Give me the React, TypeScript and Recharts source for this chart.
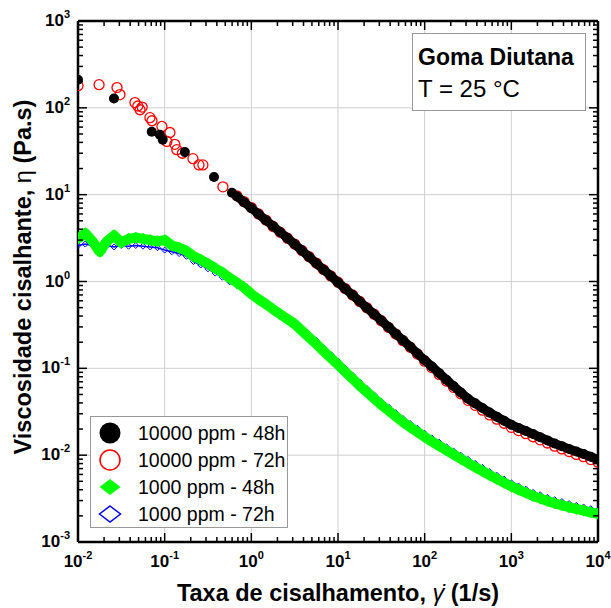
import React from 'react';
import { ScatterChart, Scatter, XAxis, YAxis, ReferenceLine, Legend, Label } from 'recharts';

// ---------- data ----------
// shared shear-rate grid (1/s), 12 points per decade
const rateGrid = [
  0.01, 0.0121, 0.0147, 0.0178, 0.0215, 0.0261, 0.0316, 0.0383, 0.0464, 0.0562, 0.0681, 0.0825,
  0.1, 0.121, 0.147, 0.178, 0.215, 0.261, 0.316, 0.383, 0.464, 0.562, 0.681, 0.825,
  1, 1.21, 1.47, 1.78, 2.15, 2.61, 3.16, 3.83, 4.64, 5.62, 6.81, 8.25,
  10, 12.1, 14.7, 17.8, 21.5, 26.1, 31.6, 38.3, 46.4, 56.2, 68.1, 82.5,
  100, 121, 147, 178, 215, 261, 316, 383, 464, 562, 681, 825,
  1000, 1210, 1470, 1780, 2150, 2610, 3160, 3830, 4640, 5620, 6810, 8250,
  10000,
];

// 10000 ppm - 48h : sparse low-rate points
const rate10000_48hLow = [0.01, 0.026, 0.071, 0.088, 0.095, 0.171, 0.371, 0.597];
const visc10000_48hLow = [211, 128, 53, 49, 43, 30.9, 16, 10.5];
// 10000 ppm - 48h : dense part (rateGrid from 0.681)
const visc10000_48hHigh = [
  9.6, 8.2,
  7.0, 5.97, 5.09, 4.34, 3.7, 3.16, 2.69, 2.27, 1.92, 1.62, 1.37, 1.16,
  0.977, 0.826, 0.697, 0.589, 0.498, 0.42, 0.355, 0.298, 0.25, 0.21, 0.177, 0.148,
  0.124, 0.105, 0.088, 0.074, 0.0626, 0.0528, 0.0447, 0.0395, 0.0349, 0.0309, 0.0277, 0.0249,
  0.0224, 0.0206, 0.019, 0.0175, 0.0161, 0.0148, 0.0136, 0.0127, 0.0118, 0.011, 0.0103, 0.00957,
  0.0089,
];

// 10000 ppm - 72h : sparse low-rate points
const rate10000_72hLow = [0.01, 0.0175, 0.0282, 0.0305, 0.0454, 0.049, 0.052, 0.055, 0.0676, 0.0714, 0.093, 0.106, 0.115, 0.131, 0.138, 0.16, 0.212, 0.249, 0.276, 0.47];
const visc10000_72hLow = [180, 185, 171, 142, 115, 105, 95, 102, 77, 71, 61, 41, 52, 38, 33, 30, 26, 22, 22, 12.3];
// 10000 ppm - 72h : dense part (rateGrid from 0.681)
const visc10000_72hHigh = [
  9.7, 8.3,
  7.1, 6.0, 5.1, 4.3, 3.7, 3.15, 2.7, 2.28, 1.93, 1.63, 1.37, 1.16,
  0.98, 0.83, 0.7, 0.59, 0.5, 0.42, 0.353, 0.296, 0.248, 0.208, 0.175, 0.146,
  0.121, 0.102, 0.085, 0.0715, 0.0604, 0.051, 0.0428, 0.0375, 0.033, 0.0291, 0.026, 0.0233,
  0.0209, 0.0192, 0.0177, 0.0163, 0.015, 0.0138, 0.0127, 0.0118, 0.011, 0.0102, 0.0096, 0.0089,
  0.0083,
];

// 1000 ppm - 48h (full rateGrid)
const visc1000_48h = [
  3.1, 3.6, 2.9, 2.2, 2.9, 3.4, 2.8, 3.1, 3.2, 3.1, 3.0, 2.9,
  3.0, 2.6, 2.45, 2.25, 1.95, 1.78, 1.6, 1.42, 1.27, 1.1, 0.97, 0.85,
  0.72, 0.625, 0.55, 0.479, 0.42, 0.369, 0.324, 0.271, 0.227, 0.191, 0.158, 0.132,
  0.11, 0.0912, 0.0759, 0.0631, 0.0533, 0.045, 0.038, 0.0326, 0.028, 0.024, 0.021, 0.0185,
  0.0162, 0.0144, 0.0128, 0.0114, 0.0102, 0.00908, 0.00813, 0.0073, 0.00656, 0.00589, 0.00533, 0.00482,
  0.00437, 0.00401, 0.00369, 0.00339, 0.00318, 0.00297, 0.00279, 0.00265, 0.00252, 0.0024, 0.0023, 0.0022,
  0.00211,
];

// 1000 ppm - 72h (full rateGrid)
const visc1000_72h = [
  2.6, 2.7, 2.6, 2.5, 2.6, 2.5, 2.6, 2.55, 2.6, 2.55, 2.5, 2.45,
  2.3, 2.2, 2.1, 1.95, 1.7, 1.55, 1.4, 1.25, 1.12, 0.99, 0.9, 0.81,
  0.71, 0.625, 0.55, 0.48, 0.42, 0.37, 0.34, 0.285, 0.24, 0.21, 0.174, 0.145,
  0.121, 0.1, 0.0835, 0.0694, 0.0586, 0.0495, 0.0418, 0.0359, 0.0308, 0.0264, 0.0231, 0.0204,
  0.0178, 0.0158, 0.0141, 0.0125, 0.0112, 0.00999, 0.00894, 0.00803, 0.00722, 0.00648, 0.00586, 0.0053,
  0.00481, 0.00441, 0.00406, 0.00373, 0.0035, 0.00327, 0.00307, 0.00292, 0.00277, 0.00264, 0.00253, 0.00242,
  0.00232,
];

const seriesNames = ['10000 ppm - 48h', '10000 ppm - 72h', '1000 ppm - 48h', '1000 ppm - 72h'];
const xMajorTicks = [0.01, 0.1, 1, 10, 100, 1000, 10000];
const yMajorTicks = [0.001, 0.01, 0.1, 1, 10, 100, 1000];
const xTitle = 'Taxa de cisalhamento, ';
const yTitle = 'Viscosidade cisalhante, ';

// ---------- layout ----------
const W = 611;
const H = 608;
const MARGIN = { top: 21, right: 13, bottom: 0, left: 0 };
const Y_AXIS_W = 78;
const X_AXIS_H = 66;
const PLOT_W = W - MARGIN.left - MARGIN.right - Y_AXIS_W;
const PLOT_H = H - MARGIN.top - MARGIN.bottom - X_AXIS_H;
const FONT = '"Liberation Sans", Arial, sans-serif';

const denseStart = rateGrid.length - visc10000_48hHigh.length;
const toPts = (xs: number[], ys: number[]) => xs.map((x, i) => ({ x, y: ys[i] }));
const blackLow = toPts(rate10000_48hLow, visc10000_48hLow);
const blackHigh = toPts(rateGrid.slice(denseStart), visc10000_48hHigh);
const redLow = toPts(rate10000_72hLow, visc10000_72hLow);
const redHigh = toPts(rateGrid.slice(denseStart), visc10000_72hHigh);
const green = toPts(rateGrid, visc1000_48h);
const blue = toPts(rateGrid, visc1000_72h);

const withMinors = (majors: number[]) => {
  const out: number[] = [];
  majors.forEach((d, i) => {
    out.push(d);
    if (i < majors.length - 1) [2, 3, 4, 5, 6, 7, 8, 9].forEach((m) => out.push(+(d * m).toPrecision(3)));
  });
  return out;
};
const xTicks = withMinors(xMajorTicks);
const yTicks = withMinors(yMajorTicks);
const isMajor = (v: number) => Math.abs(Math.log10(v) - Math.round(Math.log10(v))) < 1e-6;
const expOf = (v: number) => String(Math.round(Math.log10(v)));

const XTick = (props: any) => {
  const { x, y, payload } = props;
  const v = payload.value;
  const major = isMajor(v);
  const len = major ? 9 : 5;
  return (
    <g>
      <line x1={x} y1={y} x2={x} y2={y - len} stroke="#000" strokeWidth={1.5} />
      <line x1={x} y1={y - PLOT_H} x2={x} y2={y - PLOT_H + len} stroke="#000" strokeWidth={1.5} />
      {major && (
        <text x={x} y={y + 25} textAnchor="middle" fontSize={17} fontWeight="bold" fontFamily={FONT} fill="#000">
          10<tspan dy={-8} fontSize={11}>{expOf(v)}</tspan>
        </text>
      )}
    </g>
  );
};

const YTick = (props: any) => {
  const { x, y, payload } = props;
  const v = payload.value;
  const major = isMajor(v);
  const len = major ? 9 : 5;
  return (
    <g>
      <line x1={x} y1={y} x2={x + len} y2={y} stroke="#000" strokeWidth={1.5} />
      <line x1={x + PLOT_W} y1={y} x2={x + PLOT_W - len} y2={y} stroke="#000" strokeWidth={1.5} />
      {major && (
        <text x={x - 8} y={y + 5} textAnchor="end" fontSize={17} fontWeight="bold" fontFamily={FONT} fill="#000">
          10<tspan dy={-8} fontSize={11}>{expOf(v)}</tspan>
        </text>
      )}
    </g>
  );
};

const XTitle = (props: any) => {
  const vb = props.viewBox || { x: Y_AXIS_W, y: MARGIN.top + PLOT_H, width: PLOT_W, height: X_AXIS_H };
  return (
    <text x={vb.x + vb.width / 2} y={vb.y + 59} textAnchor="middle" fontSize={23.5} fontWeight="bold" fontFamily={FONT} fill="#000">
      {xTitle}
      <tspan fontWeight="normal" fontStyle="italic">{'\u03B3\u0307'}</tspan>
      {' (1/s)'}
    </text>
  );
};

const YTitle = (props: any) => {
  const vb = props.viewBox || { x: 0, y: MARGIN.top, width: Y_AXIS_W, height: PLOT_H };
  const cx = 31;
  const cy = vb.y + vb.height / 2 - 4.5;
  return (
    <text x={cx} y={cy} transform={`rotate(-90, ${cx}, ${cy})`} textAnchor="middle" fontSize={23.5} fontWeight="bold" fontFamily={FONT} fill="#000">
      {yTitle}
      <tspan fontWeight="normal">{'\u03B7'}</tspan>
      {' (Pa.s)'}
    </text>
  );
};

const Dot = (p: any) => <circle cx={p.cx} cy={p.cy} r={5} fill="#000" />;
const Ring = (p: any) => <circle cx={p.cx} cy={p.cy} r={5} fill="none" stroke="#ff0000" strokeWidth={1.3} />;
const Diamond = (p: any) => (
  <polygon points={`${p.cx},${p.cy - 6} ${p.cx + 6.5},${p.cy} ${p.cx},${p.cy + 6} ${p.cx - 6.5},${p.cy}`} fill="#00ff00" />
);
const SmallDiamond = (p: any) => (
  <polygon points={`${p.cx},${p.cy - 3} ${p.cx + 3},${p.cy} ${p.cx},${p.cy + 3} ${p.cx - 3},${p.cy}`} fill="none" stroke="#0000ff" strokeWidth={1} />
);

const LegendBox = () => {
  const rows = [17, 44, 71, 98];
  const mx = 20;
  return (
    <svg width={198} height={112} style={{ display: 'block' }}>
      <rect x={0.5} y={0.5} width={197} height={111} fill="#fff" stroke="#999" strokeWidth={1} />
      <circle cx={mx} cy={rows[0]} r={10.5} fill="#000" />
      <circle cx={mx} cy={rows[1]} r={10} fill="none" stroke="#ff0000" strokeWidth={1.5} />
      <polygon points={`${mx},${rows[2] - 8} ${mx + 10.5},${rows[2]} ${mx},${rows[2] + 8} ${mx - 10.5},${rows[2]}`} fill="#00ff00" />
      <polygon points={`${mx},${rows[3] - 8} ${mx + 10.5},${rows[3]} ${mx},${rows[3] + 8} ${mx - 10.5},${rows[3]}`} fill="none" stroke="#0000ff" strokeWidth={1.5} />
      {seriesNames.map((n, i) => (
        <text key={n} x={48} y={rows[i] + 7} fontSize={19.5} fontFamily={FONT} fill="#000">{n}</text>
      ))}
    </svg>
  );
};

export default function App() {
  return (
    <div style={{ position: 'absolute', left: 0, top: 0, width: W, height: H, background: '#fff' }}>
      <ScatterChart width={W} height={H} margin={MARGIN}>
        <XAxis
          type="number"
          dataKey="x"
          scale="log"
          domain={[0.01, 10000]}
          allowDataOverflow
          ticks={xTicks}
          interval={0}
          tickSize={0}
          tickMargin={0}
          tickLine={false}
          tick={<XTick />}
          axisLine={{ stroke: '#000', strokeWidth: 2.5 }}
          height={X_AXIS_H}
        >
          <Label content={<XTitle />} />
        </XAxis>
        <YAxis
          type="number"
          dataKey="y"
          scale="log"
          domain={[0.001, 1000]}
          allowDataOverflow
          ticks={yTicks}
          interval={0}
          tickSize={0}
          tickMargin={0}
          tickLine={false}
          tick={<YTick />}
          axisLine={{ stroke: '#000', strokeWidth: 2.5 }}
          width={Y_AXIS_W}
        >
          <Label content={<YTitle />} />
        </YAxis>
        {xMajorTicks.slice(1, -1).map((v) => (
          <ReferenceLine key={'gx' + v} x={v} stroke="#cfcfcf" strokeWidth={1} />
        ))}
        {yMajorTicks.slice(1, -1).map((v) => (
          <ReferenceLine key={'gy' + v} y={v} stroke="#cfcfcf" strokeWidth={1} />
        ))}
        <ReferenceLine x={10000} stroke="#000" strokeWidth={2.5} />
        <ReferenceLine y={1000} stroke="#000" strokeWidth={2.5} />
        <Scatter name={seriesNames[1]} data={redLow} shape={Ring} isAnimationActive={false} />
        <Scatter name={seriesNames[1] + ' '} data={redHigh} shape={Ring} isAnimationActive={false} />
        <Scatter
          name={seriesNames[0]}
          data={blackHigh}
          shape={Dot}
          line={{ stroke: '#000', strokeWidth: 9, strokeLinejoin: 'round' }}
          isAnimationActive={false}
        />
        <Scatter name={seriesNames[0] + ' '} data={blackLow} shape={Dot} isAnimationActive={false} />
        <Scatter
          name={seriesNames[3]}
          data={blue}
          shape={SmallDiamond}
          line={{ stroke: '#0000ff', strokeWidth: 1.5 }}
          isAnimationActive={false}
        />
        <Scatter
          name={seriesNames[2]}
          data={green}
          shape={Diamond}
          line={{ stroke: '#00ff00', strokeWidth: 10, strokeLinejoin: 'round' }}
          isAnimationActive={false}
        />
        <Legend
          layout="vertical"
          align="center"
          verticalAlign="middle"
          content={() => <LegendBox />}
          wrapperStyle={{ left: 90, top: 416, width: 198, height: 112, right: 'auto', bottom: 'auto' }}
        />
      </ScatterChart>
      <svg width={176} height={80} style={{ position: 'absolute', left: 411, top: 32 }}>
        <rect x={1.5} y={1.5} width={173} height={77} fill="#fff" stroke="#999" strokeWidth={1} />
        <text x={7} y={33} fontSize={23} fontWeight="bold" fontFamily={FONT} fill="#000">Goma Diutana</text>
        <text x={7} y={65} fontSize={24} fontFamily={FONT} fill="#000">T = 25 °C</text>
      </svg>
    </div>
  );
}
